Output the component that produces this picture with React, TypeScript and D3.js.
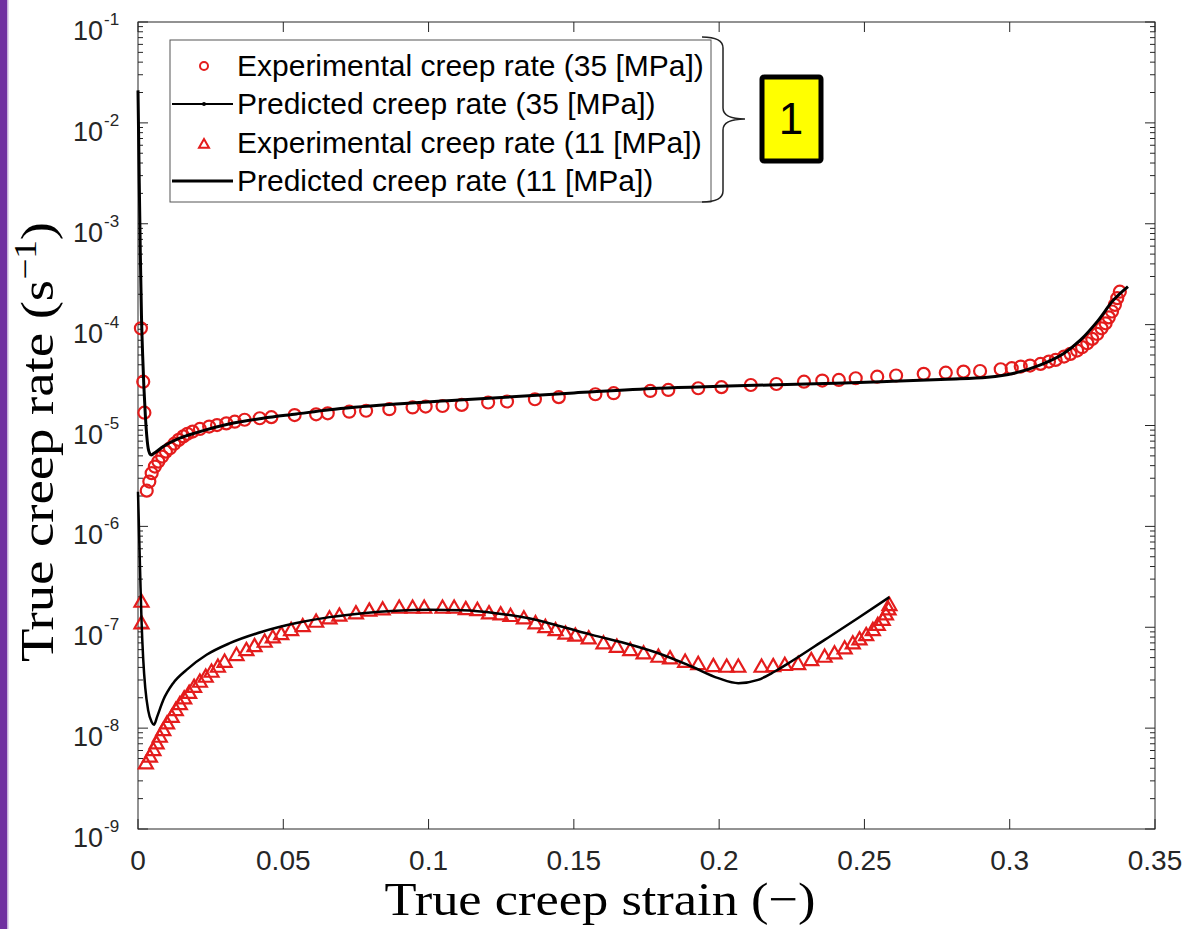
import React from "react";
import * as d3 from "d3";

// 35 MPa, experimental (circles)
const exp35Strain = [
  0.001, 0.0018, 0.0022, 0.003, 0.0039, 0.0047, 0.0058, 0.007, 0.0083, 0.0096, 0.011, 0.0125, 0.014,
  0.0156, 0.017, 0.0188, 0.0213, 0.0245, 0.0272, 0.0304, 0.0333, 0.0367, 0.0419, 0.0459, 0.0539, 0.0613,
  0.0653, 0.0727, 0.0785, 0.0865, 0.0945, 0.099, 0.1048, 0.1114, 0.1205, 0.127, 0.1366, 0.1448, 0.1574,
  0.1637, 0.1763, 0.1825, 0.1928, 0.2008, 0.2109, 0.2197, 0.2292, 0.2355, 0.2412, 0.247, 0.2544, 0.2609,
  0.2704, 0.278, 0.2841, 0.2898, 0.2969, 0.3007, 0.3038, 0.307, 0.3106, 0.3135, 0.3158, 0.3187, 0.3209,
  0.3232, 0.3249, 0.3267, 0.3284, 0.3301, 0.3316, 0.333, 0.3341, 0.3352, 0.3362, 0.337, 0.3379,
];
const exp35Rate = [
  9.2e-5, 2.72e-5, 1.34e-5, 2.26e-6, 2.78e-6, 3.37e-6, 3.92e-6, 4.39e-6, 4.92e-6, 5.51e-6, 5.95e-6, 6.6e-6,
  7.2e-6, 7.8e-6, 8.27e-6, 8.7e-6, 9.25e-6, 9.76e-6, 1.01e-5, 1.05e-5, 1.09e-5, 1.14e-5, 1.18e-5, 1.21e-5,
  1.27e-5, 1.29e-5, 1.32e-5, 1.37e-5, 1.4e-5, 1.45e-5, 1.51e-5, 1.54e-5, 1.56e-5, 1.6e-5, 1.69e-5, 1.73e-5,
  1.82e-5, 1.91e-5, 2.04e-5, 2.09e-5, 2.2e-5, 2.25e-5, 2.34e-5, 2.4e-5, 2.52e-5, 2.58e-5, 2.72e-5, 2.79e-5,
  2.83e-5, 2.94e-5, 3.05e-5, 3.13e-5, 3.25e-5, 3.34e-5, 3.42e-5, 3.47e-5, 3.61e-5, 3.7e-5, 3.84e-5, 3.93e-5,
  4.08e-5, 4.3e-5, 4.47e-5, 4.82e-5, 5.13e-5, 5.53e-5, 5.97e-5, 6.54e-5, 7.22e-5, 8.09e-5, 9.2e-5, 1.03e-4,
  1.18e-4, 1.35e-4, 1.57e-4, 1.83e-4, 2.12e-4,
];

// 35 MPa, predicted
const pred35Strain = [
  0, 0.0004, 0.0008, 0.0012, 0.0016, 0.002, 0.0025, 0.003, 0.0037, 0.0045, 0.0055, 0.0087, 0.0144, 0.0201,
  0.0316, 0.043, 0.0545, 0.0659, 0.0888, 0.1105, 0.15, 0.1791, 0.2, 0.2429, 0.2557, 0.2786, 0.2924, 0.3015,
  0.3106, 0.3187, 0.3244, 0.3301, 0.3358, 0.3407,
];
const pred35Rate = [
  2.1e-2, 3e-3, 5e-4, 1.2e-4, 5e-5, 2.5e-5, 1.3e-5, 8e-6, 5.6e-6, 5.1e-6, 5.3e-6, 6.2e-6, 7.5e-6, 8.5e-6,
  1.04e-5, 1.18e-5, 1.3e-5, 1.43e-5, 1.63e-5, 1.79e-5, 2.1e-5, 2.34e-5, 2.45e-5, 2.64e-5, 2.72e-5, 2.88e-5,
  3.01e-5, 3.3e-5, 3.99e-5, 5.21e-5, 7.05e-5, 1.07e-4, 1.76e-4, 2.38e-4,
];

// 11 MPa, experimental (triangles)
const exp11Strain = [
  0.0012, 0.0012, 0.0027, 0.0041, 0.0053, 0.0064, 0.0075, 0.0087, 0.01, 0.0116, 0.013, 0.0144, 0.0159,
  0.0176, 0.0193, 0.0213, 0.0233, 0.0253, 0.0275, 0.0298, 0.0339, 0.0373, 0.0401, 0.0436, 0.0464, 0.0493,
  0.0527, 0.0567, 0.0613, 0.0659, 0.0693, 0.075, 0.0796, 0.0842, 0.0899, 0.0945, 0.0985, 0.1048, 0.1088,
  0.1128, 0.1168, 0.1208, 0.1248, 0.1282, 0.1328, 0.1368, 0.1402, 0.1437, 0.1471, 0.1505, 0.1551, 0.1602,
  0.1648, 0.1694, 0.174, 0.1791, 0.1831, 0.1883, 0.1928, 0.198, 0.2026, 0.2066, 0.2146, 0.2186, 0.2226,
  0.2272, 0.2317, 0.2363, 0.2397, 0.2432, 0.246, 0.2483, 0.2506, 0.2529, 0.2546, 0.2563, 0.2574, 0.2583,
  0.2586,
];
const exp11Rate = [
  1.8e-7, 1.1e-7, 4.5e-9, 5.24e-9, 6.1e-9, 7.1e-9, 8.26e-9, 9.6e-9, 1.12e-8, 1.3e-8, 1.52e-8, 1.74e-8,
  1.98e-8, 2.25e-8, 2.58e-8, 2.9e-8, 3.25e-8, 3.64e-8, 4.08e-8, 4.57e-8, 5.33e-8, 5.97e-8, 6.54e-8, 7.22e-8,
  7.97e-8, 8.6e-8, 9.43e-8, 1.03e-7, 1.14e-7, 1.23e-7, 1.31e-7, 1.38e-7, 1.47e-7, 1.51e-7, 1.57e-7, 1.57e-7,
  1.57e-7, 1.57e-7, 1.57e-7, 1.52e-7, 1.49e-7, 1.38e-7, 1.35e-7, 1.3e-7, 1.23e-7, 1.1e-7, 1.01e-7, 9.4e-8,
  8.7e-8, 8.3e-8, 7.8e-8, 6.95e-8, 6.44e-8, 5.97e-8, 5.53e-8, 5.13e-8, 4.94e-8, 4.57e-8, 4.34e-8, 4.14e-8,
  4.08e-8, 4.08e-8, 4.08e-8, 4.14e-8, 4.25e-8, 4.34e-8, 4.75e-8, 5.13e-8, 5.53e-8, 6.2e-8, 6.95e-8, 7.62e-8,
  8.4e-8, 9.43e-8, 1.06e-7, 1.19e-7, 1.35e-7, 1.51e-7, 1.67e-7,
];

// 11 MPa, predicted
const pred11Strain = [
  0, 0.0004, 0.0008, 0.0012, 0.0018, 0.0025, 0.0035, 0.0047, 0.0055, 0.0066, 0.0087, 0.0121, 0.0167, 0.0236,
  0.0316, 0.043, 0.0545, 0.0659, 0.0773, 0.0888, 0.1002, 0.1116, 0.1231, 0.1345, 0.146, 0.1562, 0.1677,
  0.1791, 0.1905, 0.1997, 0.2066, 0.2134, 0.2191, 0.2248, 0.2363, 0.2477, 0.2586,
];
const pred11Rate = [
  2.2e-6, 8e-7, 3e-7, 1.2e-7, 4.8e-8, 2.5e-8, 1.5e-8, 1.15e-8, 1.08e-8, 1.3e-8, 1.9e-8, 2.79e-8, 3.78e-8,
  5.33e-8, 6.95e-8, 9.07e-8, 1.1e-7, 1.26e-7, 1.38e-7, 1.46e-7, 1.49e-7, 1.47e-7, 1.38e-7, 1.23e-7, 1.01e-7,
  8.4e-8, 6.95e-8, 5.53e-8, 4.08e-8, 3.13e-8, 2.79e-8, 3.01e-8, 3.64e-8, 4.57e-8, 7.5e-8, 1.23e-7, 1.99e-7,
];

const xTicks = [0, 0.05, 0.1, 0.15, 0.2, 0.25, 0.3, 0.35];
const xTickLabels = ["0", "0.05", "0.1", "0.15", "0.2", "0.25", "0.3", "0.35"];
const yExponents = [-9, -8, -7, -6, -5, -4, -3, -2, -1];

const legendLabels = [
  "Experimental creep rate (35 [MPa])",
  "Predicted creep rate (35 [MPa])",
  "Experimental creep rate (11 [MPa])",
  "Predicted creep rate (11 [MPa])",
];

const RED = "#e41c1c";
const AXIS = "#262626";

const zip = (xs: number[], ys: number[]) => xs.map((x, i) => [x, ys[i]] as [number, number]);

const triPath = (cx: number, cy: number, s: number) =>
  `M${cx},${cy - s} L${cx + s},${cy + s * 0.75} L${cx - s},${cy + s * 0.75} Z`;

export default function App() {
  const width = 1190;
  const height = 929;
  const plot = { left: 138, right: 1155, top: 22, bottom: 829 };

  const x = d3.scaleLinear().domain([0, 0.35]).range([plot.left, plot.right]);
  const y = d3.scaleLog().domain([1e-9, 1e-1]).range([plot.bottom, plot.top]);

  const line = d3
    .line<[number, number]>()
    .x((d) => x(d[0]))
    .y((d) => y(d[1]))
    .curve(d3.curveMonotoneX);

  const exp35 = zip(exp35Strain, exp35Rate);
  const exp11 = zip(exp11Strain, exp11Rate);
  const pred35 = zip(pred35Strain, pred35Rate);
  const pred11 = zip(pred11Strain, pred11Rate);

  // log minor ticks
  const minorTicks: number[] = [];
  yExponents.slice(0, -1).forEach((e) => {
    for (let k = 2; k <= 9; k++) minorTicks.push(k * Math.pow(10, e));
  });

  const legendRowY = [66, 104, 143, 181];
  const legendX = 170;

  return (
    <div style={{ position: "absolute", left: 0, top: 0 }}>
      <svg width={width} height={height} style={{ display: "block", background: "#fff" }}>
        {/* purple slide edge */}
        <rect x={0} y={0} width={7} height={height} fill="#7030a0" />
        <rect x={7} y={0} width={1.5} height={height} fill="#c9b3dc" />

        {/* plot frame */}
        <rect
          x={plot.left}
          y={plot.top}
          width={plot.right - plot.left}
          height={plot.bottom - plot.top}
          fill="none"
          stroke={AXIS}
          strokeWidth={1}
        />

        {/* x ticks */}
        {xTicks.map((t, i) => (
          <g key={"xt" + i}>
            <line x1={x(t)} x2={x(t)} y1={plot.bottom} y2={plot.bottom - 10} stroke={AXIS} />
            <line x1={x(t)} x2={x(t)} y1={plot.top} y2={plot.top + 10} stroke={AXIS} />
            <text
              x={x(t)}
              y={870}
              textAnchor="middle"
              fontFamily="Liberation Sans, Arial, sans-serif"
              fontSize={28}
              fill={AXIS}
            >
              {xTickLabels[i]}
            </text>
          </g>
        ))}

        {/* y ticks */}
        {yExponents.map((e) => {
          const yy = y(Math.pow(10, e));
          return (
            <g key={"yt" + e}>
              <line x1={plot.left} x2={plot.left + 10} y1={yy} y2={yy} stroke={AXIS} />
              <line x1={plot.right} x2={plot.right - 10} y1={yy} y2={yy} stroke={AXIS} />
              <text
                x={103}
                y={yy + 18}
                textAnchor="end"
                fontFamily="Liberation Sans, Arial, sans-serif"
                fontSize={27}
                fill={AXIS}
              >
                10
              </text>
              <text
                x={104}
                y={yy + 3}
                fontFamily="Liberation Sans, Arial, sans-serif"
                fontSize={17}
                fill={AXIS}
              >
                {e}
              </text>
            </g>
          );
        })}
        {minorTicks.map((v, i) => (
          <g key={"ym" + i}>
            <line x1={plot.left} x2={plot.left + 5} y1={y(v)} y2={y(v)} stroke={AXIS} />
            <line x1={plot.right} x2={plot.right - 5} y1={y(v)} y2={y(v)} stroke={AXIS} />
          </g>
        ))}

        {/* experimental markers */}
        {exp35.map((d, i) => (
          <circle key={"c" + i} cx={x(d[0])} cy={y(d[1])} r={6} fill="none" stroke={RED} strokeWidth={2.2} />
        ))}
        {exp11.map((d, i) => (
          <path key={"t" + i} d={triPath(x(d[0]), y(d[1]), 7)} fill="none" stroke={RED} strokeWidth={2.2} />
        ))}

        {/* predicted lines */}
        <path d={line(pred35) || ""} fill="none" stroke="#000" strokeWidth={3} />
        <path d={line(pred11) || ""} fill="none" stroke="#000" strokeWidth={2.5} />

        {/* legend */}
        <rect x={legendX} y={40} width={541} height={162} fill="#fff" stroke="#555" strokeWidth={1} />
        <circle cx={204} cy={legendRowY[0]} r={4} fill="none" stroke={RED} strokeWidth={2} />
        <line x1={172} x2={233} y1={legendRowY[1]} y2={legendRowY[1]} stroke="#000" strokeWidth={2} />
        <circle cx={204} cy={legendRowY[1]} r={2} fill="#000" />
        <path d={triPath(204, legendRowY[2] + 1, 5)} fill="none" stroke={RED} strokeWidth={2} />
        <line x1={172} x2={233} y1={legendRowY[3]} y2={legendRowY[3]} stroke="#000" strokeWidth={3} />
        {legendLabels.map((s, i) => (
          <text
            key={"lg" + i}
            x={237}
            y={legendRowY[i] + 10}
            fontFamily="Liberation Sans, Arial, sans-serif"
            fontSize={30}
            fill="#000"
          >
            {s}
          </text>
        ))}

        {/* brace */}
        <path
          d="M702,37 Q723,37 723,48 L723,108 Q723,119 745,119 Q723,119 723,130 L723,191 Q723,202 702,202"
          fill="none"
          stroke="#222"
          strokeWidth={1.5}
        />

        {/* yellow callout */}
        <rect x={762} y={77} width={59} height={84} rx={2} fill="#ffff00" stroke="#000" strokeWidth={5} />
        <text
          x={791}
          y={134}
          textAnchor="middle"
          fontFamily="Liberation Sans, Arial, sans-serif"
          fontSize={44}
          fill="#000"
        >
          1
        </text>

        {/* axis titles */}
        <text
          x={600}
          y={915}
          textAnchor="middle"
          fontFamily="Liberation Serif, DejaVu Serif, serif"
          fontSize={47}
          textLength={431}
          lengthAdjust="spacingAndGlyphs"
          fill="#000"
        >
          True creep strain (−)
        </text>
        <text
          transform="translate(53,442) rotate(-90)"
          textAnchor="middle"
          fontFamily="Liberation Serif, DejaVu Serif, serif"
          fontSize={47}
          textLength={440}
          lengthAdjust="spacingAndGlyphs"
          fill="#000"
        >
          True creep rate (s
          <tspan fontSize={32} dy={-17}>
            −1
          </tspan>
          <tspan dy={17}>)</tspan>
        </text>
      </svg>
    </div>
  );
}
